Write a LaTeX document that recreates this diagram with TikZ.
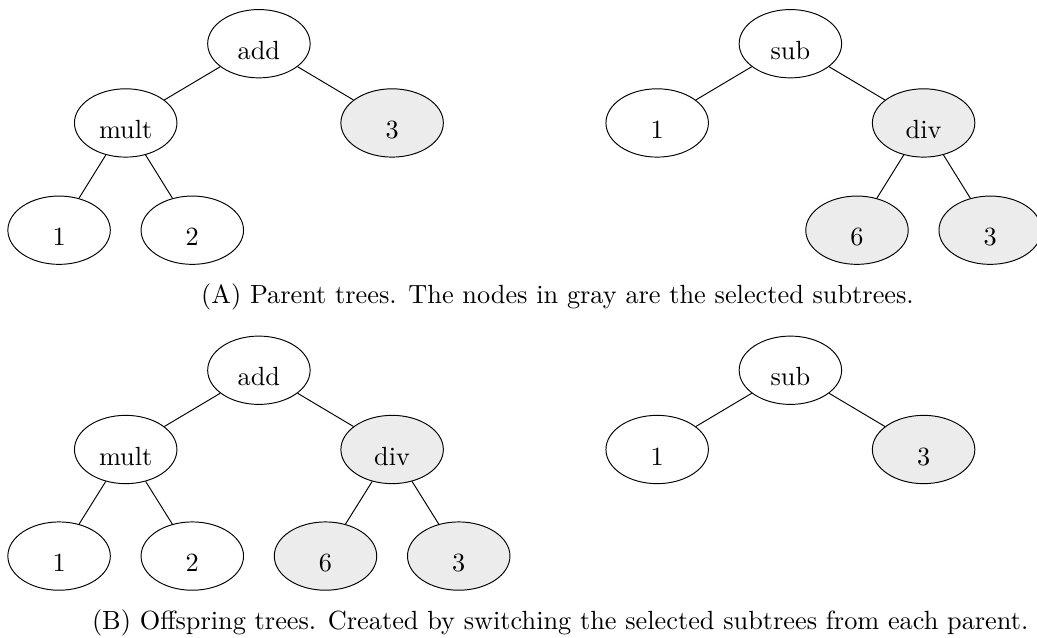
\documentclass[11pt,tikz,border=0pt]{standalone}
\usepackage{amsmath}
\usepackage{amsfonts}
\usepackage{amssymb}
\usetikzlibrary{shapes.geometric}

\begin{document}
\begin{tikzpicture}[main_node/.style={ellipse,draw,minimum width=1.5cm,minimum height=1cm,inner sep=1pt,text height=13pt,text depth=0pt},
  gray_node/.style={main_node,fill=gray!15}]

		\useasboundingbox (0,0) rectangle (15.18,-9.33);

		% (A) parent trees
		\node[main_node] (a1) at (3.79,-0.64) {add};
		\node[main_node] (a2) at (1.84,-1.80) {mult};
		\node[gray_node] (a3) at (5.74,-1.80) {3};
		\node[main_node] (a4) at (0.865,-3.37) {1};
		\node[main_node] (a5) at (2.815,-3.37) {2};
		\draw (a1) -- (a2);
		\draw (a1) -- (a3);
		\draw (a2) -- (a4);
		\draw (a2) -- (a5);

		\node[main_node] (b1) at (11.57,-0.64) {sub};
		\node[main_node] (b2) at (9.62,-1.80) {1};
		\node[gray_node] (b3) at (13.52,-1.80) {div};
		\node[gray_node] (b4) at (12.545,-3.37) {6};
		\node[gray_node] (b5) at (14.495,-3.37) {3};
		\draw (b1) -- (b2);
		\draw (b1) -- (b3);
		\draw (b3) -- (b4);
		\draw (b3) -- (b5);

		\node[anchor=base] (capA) at (8.16,-4.44) {(A) Parent trees. The nodes in gray are the selected subtrees.};

		% (B) offspring trees
		\node[main_node] (c1) at (3.79,-5.42) {add};
		\node[main_node] (c2) at (1.84,-6.58) {mult};
		\node[gray_node] (c3) at (5.74,-6.58) {div};
		\node[main_node] (c4) at (0.865,-8.14) {1};
		\node[main_node] (c5) at (2.815,-8.14) {2};
		\node[gray_node] (c6) at (4.765,-8.14) {6};
		\node[gray_node] (c7) at (6.715,-8.14) {3};
		\draw (c1) -- (c2);
		\draw (c1) -- (c3);
		\draw (c2) -- (c4);
		\draw (c2) -- (c5);
		\draw (c3) -- (c6);
		\draw (c3) -- (c7);

		\node[main_node] (d1) at (11.57,-5.42) {sub};
		\node[main_node] (d2) at (9.62,-6.58) {1};
		\node[gray_node] (d3) at (13.52,-6.58) {3};
		\draw (d1) -- (d2);
		\draw (d1) -- (d3);

		\node[anchor=base] (capB) at (8.2,-9.21) {(B) Offspring trees. Created by switching the selected subtrees from each parent.};

		\end{tikzpicture}
\end{document}
